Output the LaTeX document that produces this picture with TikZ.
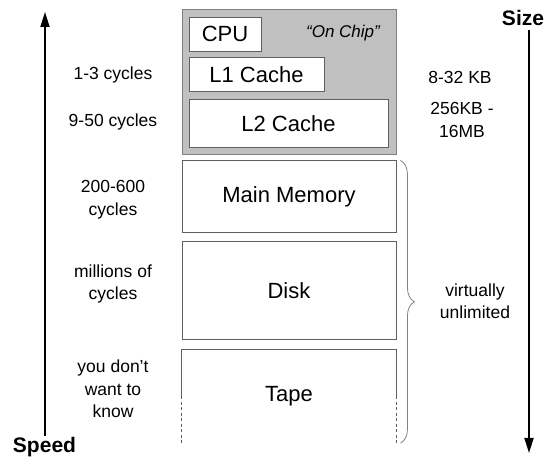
\documentclass[tikz,border=0pt]{standalone}
\usepackage{fontspec}
\setmainfont{Liberation Sans}
\usetikzlibrary{positioning}
\usetikzlibrary{arrows.meta}
\usetikzlibrary{decorations.pathreplacing}
\definecolor{chipgray}{RGB}{192,192,192}
\definecolor{edgegray}{RGB}{96,96,96}
\tikzset{basic/.style={draw=edgegray,line width=0.9pt,inner sep=0pt}}
\tikzset{unit/.style={basic,fill=white,font=\fontsize{22}{26}\selectfont}}
\tikzset{level/.style={unit,minimum width=214pt}}
\tikzset{note/.style={align=center,font=\fontsize{17.5}{22.5}\selectfont}}
\tikzset{axis/.style={line width=1.8pt,-{Triangle[length=15pt,width=9pt]}}}
\tikzset{heading/.style={inner sep=1pt,font=\bfseries\fontsize{21}{25}\selectfont}}

\begin{document}
\begin{tikzpicture}[x=1pt,y=-1pt]
    \useasboundingbox (0,0) rectangle (555,457);
    % on chip
    \node[basic,fill=chipgray,draw=gray,minimum width=214pt,minimum height=145pt] (chip) at (289,81.5) {};
    \node[unit,minimum width=72pt,minimum height=34pt] (cpu) at (225,34) {CPU};
    \node[unit,minimum width=135pt,minimum height=34pt,below=6pt of cpu.south west,anchor=north west] (lone) {L1 Cache};
    \node[unit,minimum width=199pt,minimum height=48pt,below=7pt of lone.south west,anchor=north west] (ltwo) {L2 Cache};
    \node[font=\itshape\fontsize{17}{20}\selectfont] (onchip) at (343,33) {“On Chip”};
    % off chip
    \node[level,minimum height=72pt,below=6pt of chip] (mainmem) {Main Memory};
    \node[level,minimum height=98pt,below=8pt of mainmem] (disk) {Disk};
    \node[level,draw=none,fill=none,minimum height=93pt,below=9pt of disk] (tape) {Tape};
        \draw[basic] (tape.west) -- (tape.north west) -- (tape.north east) -- (tape.east);
        \draw[basic,dash pattern=on 3pt off 2.5pt] (tape.west) -- (tape.south west) (tape.east) -- (tape.south east);
    % access times
    \node[note] (t1) at (113,75) {1-3 cycles};
    \node[note] (t2) at (113,122) {9-50 cycles};
    \node[note] (t3) at (113,199.5) {200-600\\cycles};
    \node[note] (t4) at (113,284) {millions of\\cycles};
    \node[note] (t5) at (113,389) {you don't\\want to\\know};
    % sizes
    \node[note] (s1) at (460,77) {8-32 KB};
    \node[note] (s2) at (462,120) {256KB -\\16MB};
    \draw[gray,line width=0.8pt,decorate,decoration={brace,amplitude=14pt}] ([xshift=4pt]mainmem.north east) -- ([xshift=4pt]tape.south east);
    \node[note] (s3) at (475,301) {virtually\\unlimited};
    % axes
    \node[heading] (speed) at (44.5,447) {Speed};
    \coordinate (speedtop) at (45,12);
        \draw[axis] (speed.north -| speedtop) -- (speedtop);
    \node[heading] (size) at (523,18) {Size};
    \coordinate (sizebot) at (529,453);
        \draw[axis] ([yshift=-3pt]size.south -| sizebot) -- (sizebot);
\end{tikzpicture}
\end{document}
